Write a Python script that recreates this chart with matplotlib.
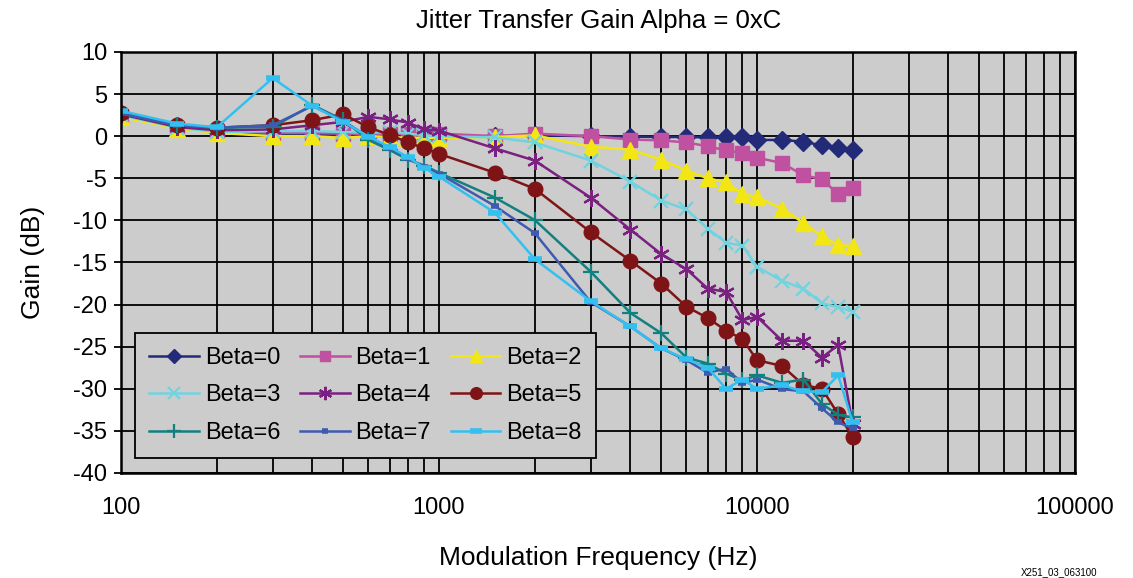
import matplotlib
matplotlib.use("Agg")
import matplotlib.pyplot as plt
from matplotlib.ticker import LogLocator, NullFormatter, FixedLocator

plt.rcParams['font.family'] = ['Liberation Sans', 'DejaVu Sans']
plt.rcParams['axes.unicode_minus'] = False

# data
freq = [100, 150, 200, 300, 400, 500, 600, 700, 800, 900, 1000, 1500, 2000,
        3000, 4000, 5000, 6000, 7000, 8000, 9000, 10000, 12000, 14000, 16000,
        18000, 20000]

beta0 = [2.6, 1.2, 0.6, 0.2, 0.1, 0.1, 0.0, 0.0, 0.0, 0.0, 0.0, 0.0, 0.1,
         0.0, -0.05, -0.1, -0.1, -0.15, -0.15, -0.15, -0.45, -0.45, -0.65,
         -1.1, -1.35, -1.6]
beta1 = [2.4, 1.0, 0.6, 0.4, 0.4, 0.3, 0.3, 0.3, 0.3, 0.3, 0.3, 0.0, 0.3,
         0.0, -0.4, -0.5, -0.75, -1.2, -1.7, -2.0, -2.55, -3.2, -4.65, -5.1,
         -6.9, -6.2]
beta2 = [2.3, 0.9, 0.4, 0.0, 0.0, -0.2, 0.0, -0.1, -0.2, -0.2, -0.2, -0.1,
         0.1, -1.25, -1.6, -2.8, -4.1, -5.0, -5.5, -6.85, -7.25, -8.6, -10.3,
         -11.9, -12.9, -13.1]
beta3 = [2.5, 1.0, 0.5, 0.6, 0.6, 0.5, 0.4, 0.5, 0.3, 0.1, 0.0, -0.15, -0.75,
         -2.9, -5.4, -7.65, -8.7, -11.0, -12.65, -13.0, -15.5, -17.2, -18.1,
         -19.85, -20.3, -20.85]
beta4 = [2.6, 1.1, 0.7, 0.8, 1.3, 1.7, 2.3, 2.0, 1.6, 0.8, 0.65, -1.45, -2.9,
         -7.3, -11.1, -14.0, -15.8, -18.1, -18.5, -21.85, -21.45, -24.3, -24.3,
         -26.3, -24.8, -34.2]
beta5 = [2.8, 1.3, 1.0, 1.3, 1.9, 2.6, 1.05, 0.15, -0.75, -1.45, -2.1, -4.35,
         -6.25, -11.4, -14.8, -17.5, -20.25, -21.6, -23.1, -24.1, -26.6, -27.3,
         -29.55, -30.0, -33.0, -35.7]
beta6 = [2.7, 1.3, 1.0, 1.1, 3.7, 1.9, -0.45, -1.65, -2.8, -3.5, -4.35, -7.3,
         -9.95, -16.1, -21.0, -23.4, -26.3, -27.0, -28.2, -29.0, -28.4, -29.3,
         -28.9, -31.8, -33.1, -33.4]
beta7 = [2.7, 1.3, 1.0, 1.3, 3.6, 1.8, -0.1, -1.45, -2.6, -3.7, -4.45, -8.3,
         -11.5, -19.7, -22.6, -25.2, -26.6, -28.1, -27.6, -29.35, -28.9, -30.05,
         -30.3, -32.3, -34.0, -34.7]
beta8 = [3.0, 1.5, 1.05, 6.9, 3.6, 1.7, -0.05, -1.3, -2.5, -3.8, -4.8, -9.1,
         -14.6, -19.6, -22.6, -25.2, -26.5, -27.5, -30.0, -28.9, -30.0, -29.6,
         -30.3, -30.4, -28.4, -34.0]

series = [beta0, beta1, beta2, beta3, beta4, beta5, beta6, beta7, beta8]
labels = ['Beta=%d' % i for i in range(9)]

colors = ['#232a78', '#c050a0', '#f2e614', '#6fd3e0', '#7a2080',
          '#7f1416', '#138080', '#3d5bb0', '#33c0f0']
styles = [dict(marker='D', ms=9), dict(marker='s', ms=9.5),
          dict(marker='^', ms=11), dict(marker='x', ms=10, mew=1.6),
          dict(marker=(6, 2, 0), ms=12, mew=1.6), dict(marker='o', ms=10.5),
          dict(marker='+', ms=12, mew=1.6), dict(marker='_', ms=6, mew=4),
          dict(marker='_', ms=10, mew=4)]

fig = plt.figure(figsize=(11.33, 5.78), dpi=100)
ax = fig.add_axes([0.1068, 0.1817, 0.842, 0.7284])
ax.set_facecolor('#cccccc')

lines = []
for ys, lab, c, st in zip(series, labels, colors, styles):
    ln, = ax.plot(freq, ys, color=c, lw=1.8, label=lab, **st)
    lines.append(ln)

ax.set_xscale('log')
ax.set_xlim(100, 100000)
ax.set_ylim(-40, 10)
ax.set_yticks(range(-40, 11, 5))
ax.xaxis.set_major_locator(FixedLocator([100, 1000, 10000, 100000]))
ax.set_xticklabels(['100', '1000', '10000', '100000'])
ax.xaxis.set_minor_locator(LogLocator(base=10, subs=range(2, 10)))
ax.xaxis.set_minor_formatter(NullFormatter())
ax.grid(True, which='both', color='black', lw=1.3)
ax.set_axisbelow(True)
for s in ax.spines.values():
    s.set_linewidth(1.8)
ax.tick_params(axis='x', which='both', length=0, pad=17, labelsize=17)
ax.tick_params(axis='y', length=5, width=1.3, pad=5, labelsize=17)

# legend fills row by row: reorder for matplotlib's column-first layout
order = [0, 3, 6, 1, 4, 7, 2, 5, 8]
leg = ax.legend([lines[i] for i in order], [labels[i] for i in order],
                ncol=3, loc='lower left',
                bbox_to_anchor=(0.0147, 0.0356, 0.483, 0.306), mode='expand',
                borderaxespad=0, fontsize=17, facecolor='#cccccc',
                edgecolor='black', framealpha=1, fancybox=False,
                handlelength=2.1, handletextpad=0.25, columnspacing=0.2,
                labelspacing=0.65, borderpad=0.6, markerscale=0.8)
leg.get_frame().set_linewidth(1.3)

fig.text(0.528, 0.963, 'Jitter Transfer Gain Alpha = 0xC', ha='center',
         va='center', fontsize=18.5)
ax.set_ylabel('Gain (dB)', fontsize=19, labelpad=20)
fig.text(0.528, 0.035, 'Modulation Frequency (Hz)', ha='center',
         va='center', fontsize=19)
fig.text(0.935, 0.002, 'X251_03_063100', ha='center', va='bottom',
         fontsize=7)

fig.savefig('out.png', dpi=100)
